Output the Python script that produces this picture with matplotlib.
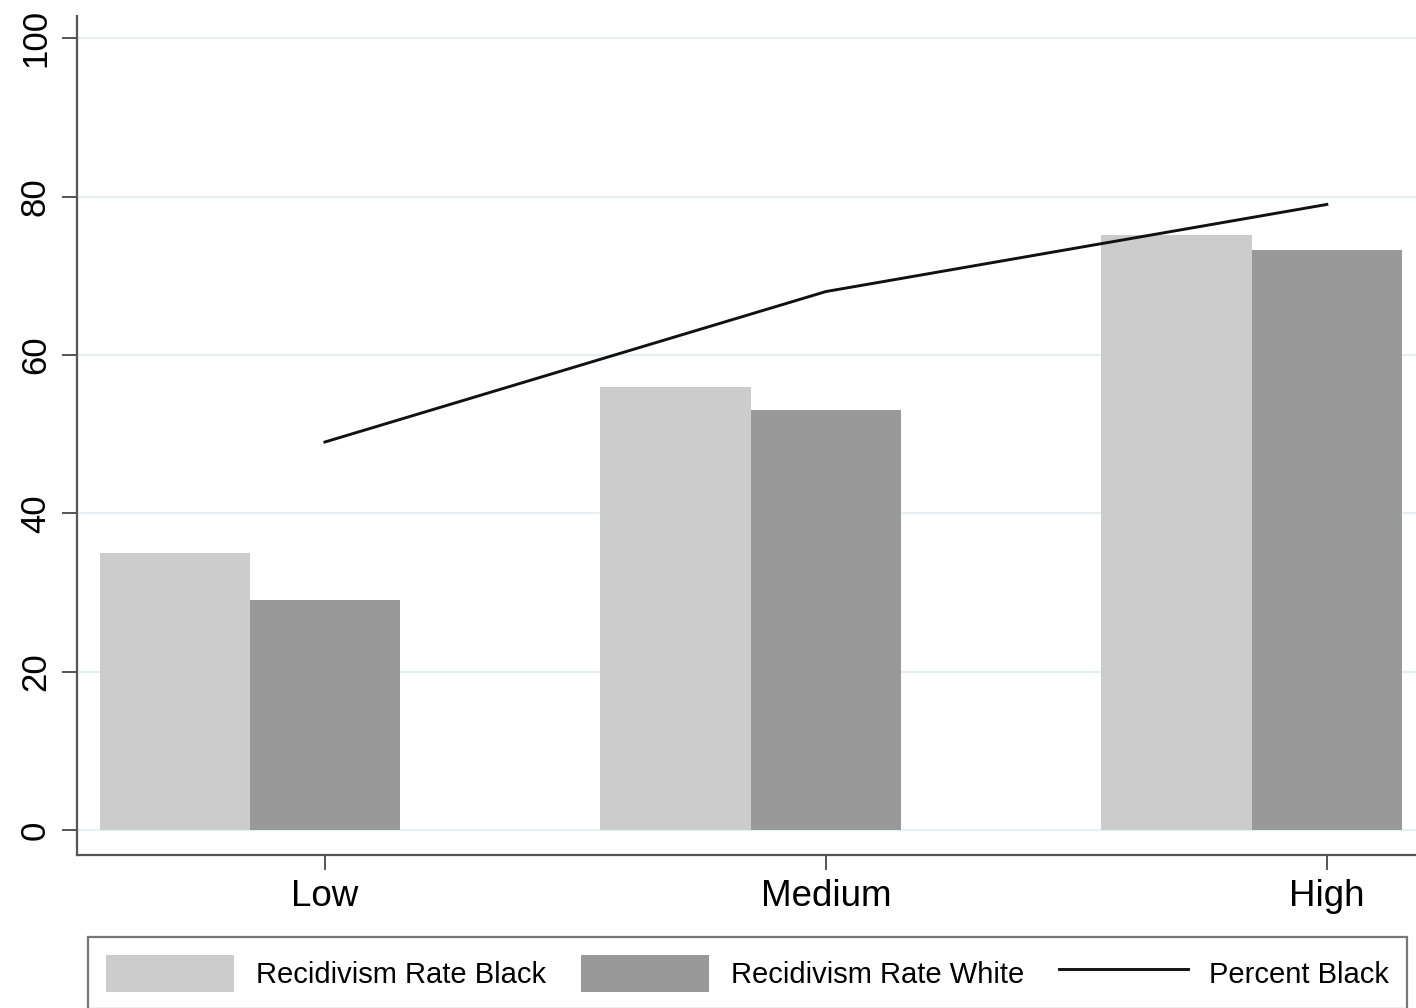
import matplotlib
matplotlib.use("Agg")
import matplotlib.pyplot as plt
import numpy as np

categories = ["Low", "Medium", "High"]
recid_black = [35, 56, 75.2]
recid_white = [29, 53, 73.2]
percent_black = [49, 68, 79]
yticks = [0, 20, 40, 60, 80, 100]

plt.rcParams['font.family'] = ['Liberation Sans', 'DejaVu Sans']

fig = plt.figure(figsize=(14.16, 10.08), dpi=100)
ax = fig.add_axes([77/1416, 1-855/1008, 1-77/1416, (855-16)/1008])

x = np.arange(len(categories))
w = 0.30
hb = ax.bar(x - w, recid_black, width=w, color="#cccccc", zorder=2, label="Recidivism Rate Black")
hw = ax.bar(x, recid_white, width=w, color="#999999", zorder=2, label="Recidivism Rate White")
hl, = ax.plot(x, percent_black, color="#111111", lw=2.1, zorder=3, label="Percent Black")

ax.set_xlim(-0.495, 2.178)
ax.set_ylim(-3.16, 102.8)
ax.set_yticks(yticks)
ax.set_yticklabels([str(t) for t in yticks], rotation=90, va="center", fontsize=25)
ax.set_xticks(x)
ax.set_xticklabels(categories, fontsize=26.5)
ax.grid(axis="y", color="#e6eff1", lw=1.6, zorder=0)
ax.set_axisbelow(True)

for s in ["top", "right"]:
    ax.spines[s].set_visible(False)
for s in ["left", "bottom"]:
    ax.spines[s].set_color("#555555")
    ax.spines[s].set_linewidth(1.6)
ax.tick_params(axis="both", length=11, width=1.4, color="#555555", pad=6)
ax.tick_params(axis="y", pad=7)

leg = fig.legend([hb, hw, hl], ["Recidivism Rate Black", "Recidivism Rate White", "Percent Black"],
                 ncol=3, loc="upper left",
                 bbox_to_anchor=(88/1416, 1-937/1008),
                 fontsize=21, handlelength=4.4, handleheight=1.58,
                 handletextpad=0.75, columnspacing=1.2, borderpad=0.6,
                 fancybox=False, frameon=True, borderaxespad=0)
leg.get_frame().set_edgecolor("#555555")
leg.get_frame().set_linewidth(1.6)

fig.savefig("out.png", dpi=100)
